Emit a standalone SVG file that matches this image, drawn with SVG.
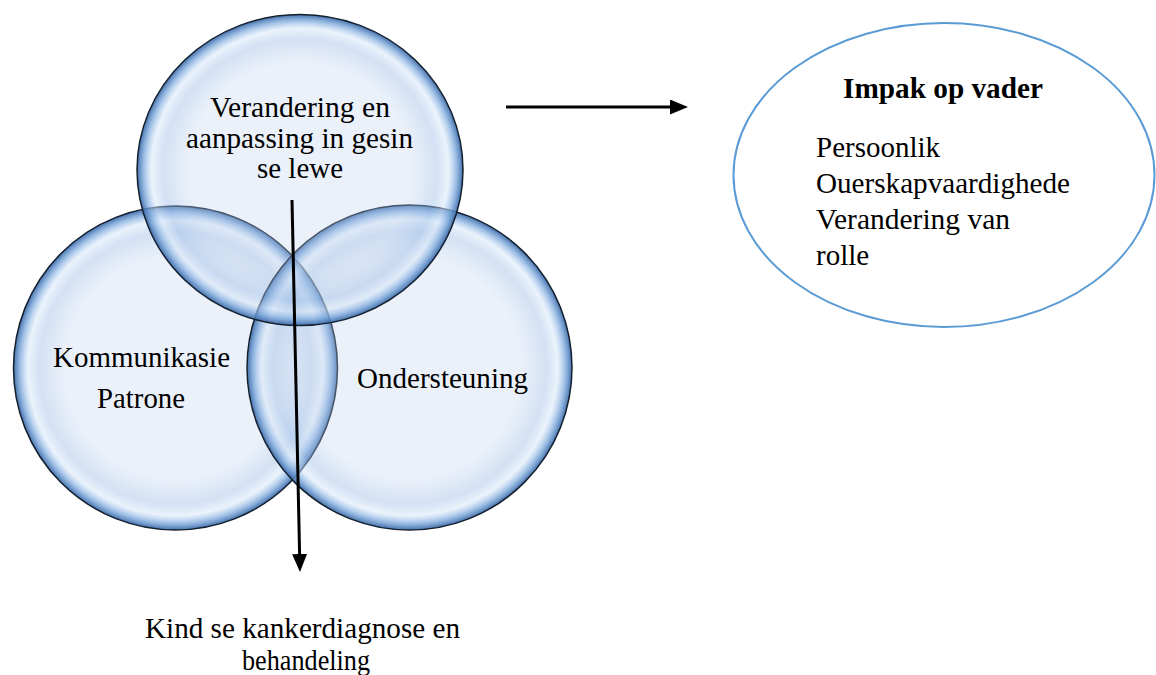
<svg xmlns="http://www.w3.org/2000/svg" width="1156" height="675" viewBox="0 0 1156 675">
<defs>
<radialGradient id="bubble" cx="50%" cy="50%" r="50%">
<stop offset="0%" stop-color="#BCCFEC" stop-opacity="0.3"/>
<stop offset="68%" stop-color="#BCCFEC" stop-opacity="0.3"/>
<stop offset="84%" stop-color="#9CBDE6" stop-opacity="0.45"/>
<stop offset="91%" stop-color="#D6E6F8" stop-opacity="0.5"/>
<stop offset="96%" stop-color="#7AA7DC" stop-opacity="0.75"/>
<stop offset="100%" stop-color="#3A69A6" stop-opacity="0.95"/>
</radialGradient>
<marker id="arrow" viewBox="0 0 6 5" refX="0" refY="2.5" markerWidth="6" markerHeight="5" orient="auto" markerUnits="strokeWidth">
<path d="M0,0 L6,2.5 L0,5 z" fill="#000"/>
</marker>
</defs>
<style>
.bubble{fill:url(#bubble);stroke:#15202F;stroke-width:1.5}
.t{font-family:"Liberation Serif","Times New Roman",serif;font-size:29px;fill:#000}
.c{text-anchor:middle}
.b{font-weight:bold}
.conn{stroke:#000;stroke-width:3;fill:none;marker-end:url(#arrow)}
</style>
<rect width="1156" height="675" fill="#fff"/>
<g id="node-kommunikasie">
<circle class="bubble" cx="175.5" cy="368" r="162"/>
</g>
<g id="node-ondersteuning">
<circle class="bubble" cx="409.5" cy="367.5" r="162.5"/>
</g>
<g id="node-verandering">
<ellipse class="bubble" cx="300" cy="170" rx="163" ry="155.5"/>
</g>
<g id="labels-venn">
<text class="t c" x="300" y="117" textLength="180" lengthAdjust="spacingAndGlyphs">Verandering en</text>
<text class="t c" x="299.5" y="148" textLength="227" lengthAdjust="spacingAndGlyphs">aanpassing in gesin</text>
<text class="t c" x="300" y="178" textLength="86" lengthAdjust="spacingAndGlyphs">se lewe</text>
<text class="t c" x="141.5" y="367" textLength="177" lengthAdjust="spacingAndGlyphs">Kommunikasie</text>
<text class="t c" x="141" y="408" textLength="88" lengthAdjust="spacingAndGlyphs">Patrone</text>
<text class="t c" x="442.5" y="388" textLength="171" lengthAdjust="spacingAndGlyphs">Ondersteuning</text>
</g>
<g id="node-impak">
<ellipse cx="944" cy="175" rx="210.5" ry="152" fill="#fff" stroke="#5B9BD5" stroke-width="2"/>
<text class="t c b" x="943" y="98" textLength="200" lengthAdjust="spacingAndGlyphs">Impak op vader</text>
<text class="t" x="816" y="157">Persoonlik</text>
<text class="t" x="816" y="193" textLength="254" lengthAdjust="spacingAndGlyphs">Ouerskapvaardighede</text>
<text class="t" x="816" y="229" textLength="194" lengthAdjust="spacingAndGlyphs">Verandering van</text>
<text class="t" x="816" y="265">rolle</text>
</g>
<g id="node-kind">
<text class="t c" x="302.5" y="638" textLength="315" lengthAdjust="spacingAndGlyphs">Kind se kankerdiagnose en</text>
<text class="t c" x="306" y="670" textLength="128" lengthAdjust="spacingAndGlyphs">behandeling</text>
</g>
<g id="connectors">
<line class="conn" x1="506" y1="107" x2="670" y2="107"/>
<line class="conn" x1="292" y1="200" x2="299.6" y2="554"/>
</g>
</svg>
